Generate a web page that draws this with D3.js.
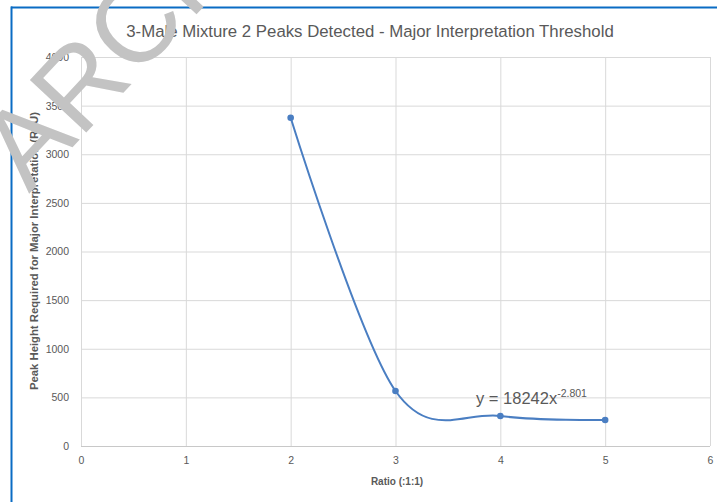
<!DOCTYPE html>
<html>
<head>
<meta charset="utf-8">
<script src="https://cdn.jsdelivr.net/npm/d3@7"></script>
<style>
  html, body { margin: 0; padding: 0; background: #fff; }
  svg { display: block; }
</style>
</head>
<body>
<svg id="chart" width="717" height="502"></svg>
<script>
const chartTitle = "3-Male Mixture 2 Peaks Detected - Major Interpretation Threshold";
const xAxisTitle = "Ratio (:1:1)";
const yAxisTitle = "Peak Height Required for Major Interpretation (RFU)";
const ratios = [2, 3, 4, 5];
const peakHeights = [3375, 566, 309, 267];
const xTicks = [0, 1, 2, 3, 4, 5, 6];
const yTicks = [0, 500, 1000, 1500, 2000, 2500, 3000, 3500, 4000];
const trendText = "y = 18242x";
const trendExp = "-2.801";
const watermark = "ARCHIVE";

const svg = d3.select("#chart");
const W = 717, H = 502;
const plot = { left: 81, right: 710, top: 57, bottom: 446 };

const x = d3.scaleLinear().domain([0, 6]).range([plot.left, plot.right]);
const y = d3.scaleLinear().domain([0, 4000]).range([plot.bottom, plot.top]);

// frame
svg.append("line").attr("x1", 11).attr("x2", W).attr("y1", 7.5).attr("y2", 7.5)
  .attr("stroke", "#0a6cc4").attr("stroke-width", 2);
svg.append("line").attr("x1", 11.5).attr("x2", 11.5).attr("y1", 6.5).attr("y2", H)
  .attr("stroke", "#0a6cc4").attr("stroke-width", 2);

const txt = "#595959";
const font = "'Liberation Sans', Arial, sans-serif";

// gridlines
const gY = svg.append("g")
  .attr("transform", `translate(${plot.left},0)`)
  .call(d3.axisLeft(y).tickValues(yTicks).tickSize(-(plot.right - plot.left)).tickFormat(d => d).tickPadding(12));
gY.select(".domain").remove();
gY.selectAll(".tick line").attr("stroke", "#d9d9d9");
gY.selectAll(".tick text").attr("fill", txt).style("font-family", font).style("font-size", "10.5px");

const gX = svg.append("g")
  .attr("transform", `translate(0,${plot.bottom})`)
  .call(d3.axisBottom(x).tickValues(xTicks).tickSize(-(plot.bottom - plot.top)).tickFormat(d => d).tickPadding(11));
gX.select(".domain").remove();
gX.selectAll(".tick line").attr("stroke", "#d9d9d9");
gX.selectAll(".tick text").attr("fill", txt).style("font-family", font).style("font-size", "10.5px");

svg.append("line").attr("x1", plot.left).attr("x2", plot.right)
  .attr("y1", plot.bottom + 0.5).attr("y2", plot.bottom + 0.5).attr("stroke", "#c8c8c8");

// series
const pts = ratios.map((r, i) => [r, peakHeights[i]]);
const line = d3.line().x(d => x(d[0])).y(d => y(d[1])).curve(d3.curveCardinal.tension(0));
svg.append("path").datum(pts).attr("d", line)
  .attr("fill", "none").attr("stroke", "#4a7ec2").attr("stroke-width", 2);
svg.selectAll("circle.pt").data(pts).join("circle").attr("class", "pt")
  .attr("cx", d => x(d[0])).attr("cy", d => y(d[1])).attr("r", 3.3)
  .attr("fill", "#4a7ec2");

// trendline label
const tl = svg.append("text").attr("x", 476).attr("y", 404)
  .attr("fill", txt).style("font-family", font).style("font-size", "16.5px");
tl.append("tspan").text(trendText);
tl.append("tspan").attr("dy", -7).style("font-size", "10.5px").text(trendExp);

// titles
svg.append("text").attr("x", 370).attr("y", 37).attr("text-anchor", "middle")
  .attr("fill", txt).style("font-family", font).style("font-size", "16.8px").text(chartTitle);
svg.append("text").attr("x", 397).attr("y", 485).attr("text-anchor", "middle")
  .attr("fill", txt).style("font-family", font).style("font-size", "10px").style("font-weight", "bold").text(xAxisTitle);
svg.append("text").attr("transform", "translate(38,251) rotate(-90)").attr("text-anchor", "middle")
  .attr("fill", txt).style("font-family", font).style("font-size", "11.3px").style("font-weight", "bold").text(yAxisTitle);

// watermark
svg.append("text").attr("transform", "translate(29,194) rotate(-47)")
  .attr("fill", "#c3c3c3").style("font-family", font).style("font-size", "112px").text(watermark);
</script>
</body>
</html>
